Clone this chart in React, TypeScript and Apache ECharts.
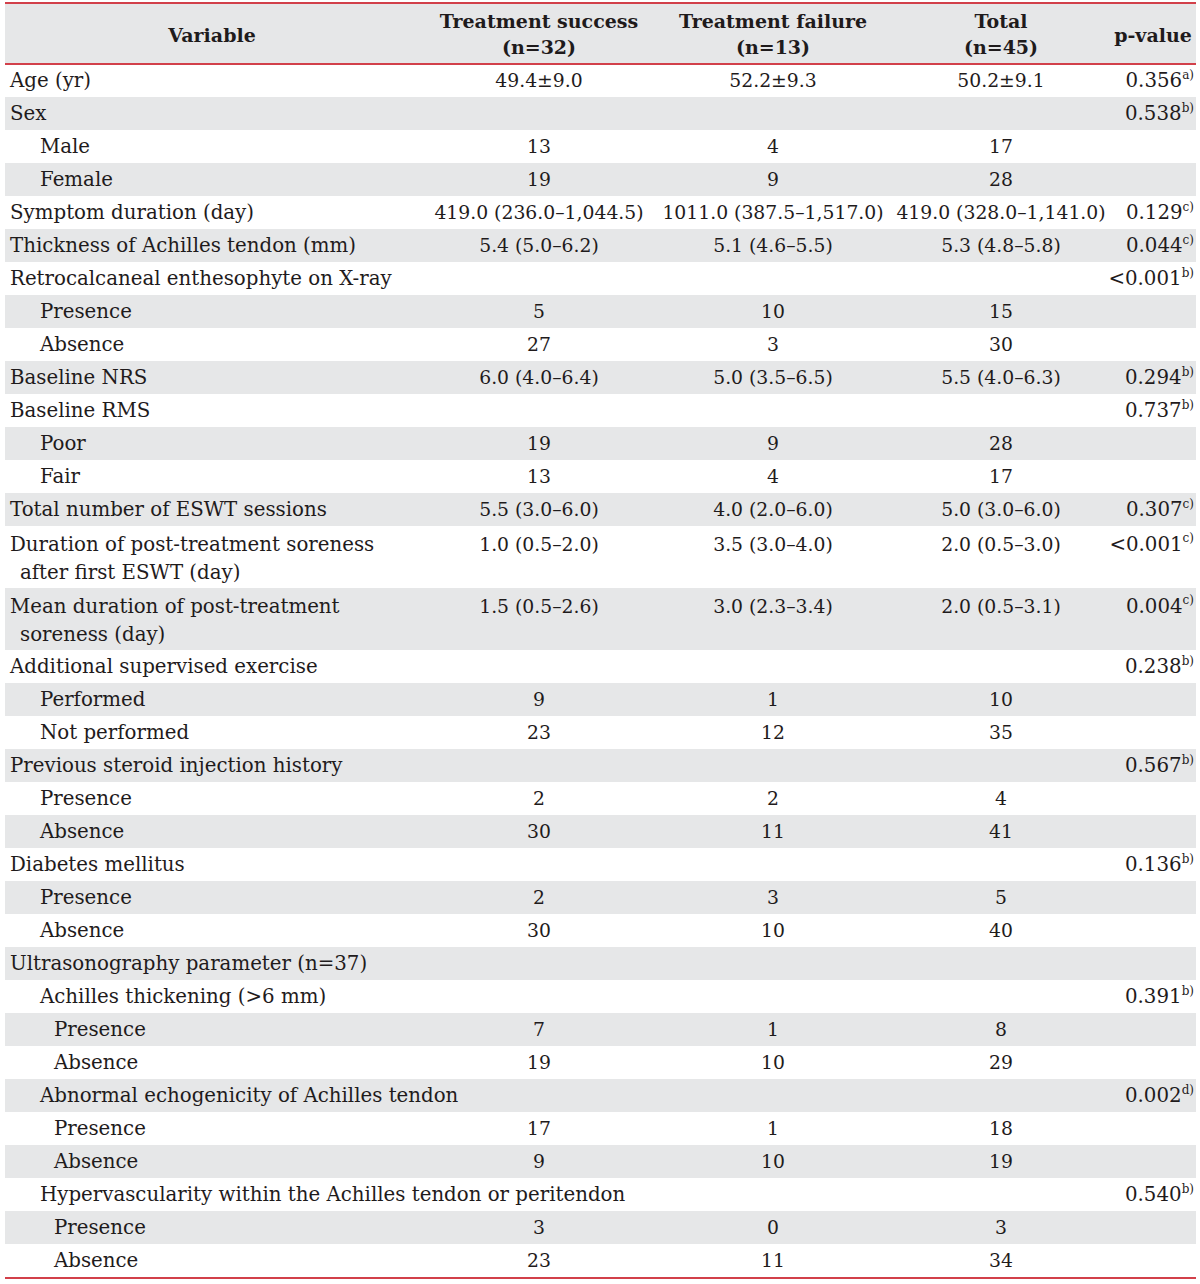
import React, { useEffect, useRef } from "react";
import * as echarts from "echarts";

const headerLabels = ["Variable", "Treatment success\n(n=32)", "Treatment failure\n(n=13)", "Total\n(n=45)", "p-value"];

const variables = [
  "Age (yr)", "Sex", "Male", "Female", "Symptom duration (day)", "Thickness of Achilles tendon (mm)",
  "Retrocalcaneal enthesophyte on X-ray", "Presence", "Absence", "Baseline NRS", "Baseline RMS", "Poor", "Fair",
  "Total number of ESWT sessions", "Duration of post-treatment soreness\nafter first ESWT (day)",
  "Mean duration of post-treatment\nsoreness (day)", "Additional supervised exercise", "Performed", "Not performed",
  "Previous steroid injection history", "Presence", "Absence", "Diabetes mellitus", "Presence", "Absence",
  "Ultrasonography parameter (n=37)", "Achilles thickening (>6 mm)", "Presence", "Absence",
  "Abnormal echogenicity of Achilles tendon", "Presence", "Absence",
  "Hypervascularity within the Achilles tendon or peritendon", "Presence", "Absence",
];

const indentLevels = [0, 0, 1, 1, 0, 0, 0, 1, 1, 0, 0, 1, 1, 0, 0, 0, 0, 1, 1, 0, 1, 1, 0, 1, 1, 0, 1, 2, 2, 1, 2, 2, 1, 2, 2];

const successValues = [
  "49.4±9.0", "", "13", "19", "419.0 (236.0–1,044.5)", "5.4 (5.0–6.2)", "", "5", "27", "6.0 (4.0–6.4)", "", "19", "13",
  "5.5 (3.0–6.0)", "1.0 (0.5–2.0)", "1.5 (0.5–2.6)", "", "9", "23", "", "2", "30", "", "2", "30", "", "", "7", "19",
  "", "17", "9", "", "3", "23",
];

const failureValues = [
  "52.2±9.3", "", "4", "9", "1011.0 (387.5–1,517.0)", "5.1 (4.6–5.5)", "", "10", "3", "5.0 (3.5–6.5)", "", "9", "4",
  "4.0 (2.0–6.0)", "3.5 (3.0–4.0)", "3.0 (2.3–3.4)", "", "1", "12", "", "2", "11", "", "3", "10", "", "", "1", "10",
  "", "1", "10", "", "0", "11",
];

const totalValues = [
  "50.2±9.1", "", "17", "28", "419.0 (328.0–1,141.0)", "5.3 (4.8–5.8)", "", "15", "30", "5.5 (4.0–6.3)", "", "28", "17",
  "5.0 (3.0–6.0)", "2.0 (0.5–3.0)", "2.0 (0.5–3.1)", "", "10", "35", "", "4", "41", "", "5", "40", "", "", "8", "29",
  "", "18", "19", "", "3", "34",
];

const pValues = [
  "0.356", "0.538", "", "", "0.129", "0.044", "<0.001", "", "", "0.294", "0.737", "", "", "0.307", "<0.001", "0.004",
  "0.238", "", "", "0.567", "", "", "0.136", "", "", "", "0.391", "", "", "0.002", "", "", "0.540", "", "",
];

const pNotes = [
  "a)", "b)", "", "", "c)", "c)", "b)", "", "", "b)", "b)", "", "", "c)", "c)", "c)",
  "b)", "", "", "b)", "", "", "b)", "", "", "", "b)", "", "", "d)", "", "", "b)", "", "",
];

const FONT = "'DejaVu Serif', serif";
const TEXT = "#1f1b1c";
const GREY = "#e6e7e8";
const RED = "#d2404a";

export default function App() {
  const ref = useRef<HTMLDivElement>(null);

  useEffect(() => {
    if (!ref.current) return;
    const chart = echarts.init(ref.current, null, { renderer: "svg" });

    const left = 5;
    const right = 1196;
    const headTop = 3;
    const headBottom = 64;
    const rowH = 33;
    const doubleH = 62;
    const colCenters = [212, 539, 773, 1001];
    const pRight = 1194;
    const indentX = [10, 40, 54];
    const labelFs = 19.8;
    const valueFs = 18.8;
    const pFs = 19.8;

    const elements: any[] = [];
    elements.push({ type: "rect", shape: { x: left, y: headTop, width: right - left, height: headBottom - headTop }, style: { fill: GREY } });

    let y = headBottom;
    variables.forEach((v, i) => {
      const lines = v.split("\n");
      const h = lines.length > 1 ? doubleH : rowH;
      if (i % 2 === 1) {
        elements.push({ type: "rect", shape: { x: left, y, width: right - left, height: h }, style: { fill: GREY } });
      }
      const firstY = lines.length > 1 ? y + 18 : y + 16.5;
      lines.forEach((ln, k) => {
        elements.push({
          type: "text", x: indentX[indentLevels[i]] + (k > 0 ? 10 : 0), y: firstY + k * 28,
          style: { text: ln, fill: TEXT, fontFamily: FONT, fontSize: labelFs, align: "left", verticalAlign: "middle" },
        });
      });
      [successValues[i], failureValues[i], totalValues[i]].forEach((val, c) => {
        if (!val) return;
        elements.push({
          type: "text", x: colCenters[c + 1], y: firstY,
          style: { text: val, fill: TEXT, fontFamily: FONT, fontSize: valueFs, align: "center", verticalAlign: "middle" },
        });
      });
      if (pValues[i]) {
        elements.push({
          type: "text", x: pRight, y: firstY,
          style: {
            text: `{v|${pValues[i]}}{s|${pNotes[i]}}`,
            align: "right", verticalAlign: "middle",
            rich: {
              v: { fill: TEXT, fontFamily: FONT, fontSize: pFs, lineHeight: 24 },
              s: { fill: TEXT, fontFamily: FONT, fontSize: 12, lineHeight: 14, verticalAlign: "top" },
            },
          },
        });
      }
      y += h;
    });

    headerLabels.forEach((h, c) => {
      const lines = h.split("\n");
      const x = c < 4 ? colCenters[c] : 1153;
      lines.forEach((ln, k) => {
        const cy = lines.length > 1 ? 21 + k * 26 : 35;
        elements.push({
          type: "text", x, y: cy,
          style: { text: ln, fill: TEXT, fontFamily: FONT, fontSize: 19, fontWeight: "bold", align: "center", verticalAlign: "middle" },
        });
      });
    });

    elements.push({ type: "rect", shape: { x: left, y: 2, width: right - left, height: 2 }, style: { fill: RED } });
    elements.push({ type: "rect", shape: { x: left, y: headBottom - 1, width: right - left, height: 2 }, style: { fill: RED } });
    elements.push({ type: "rect", shape: { x: left, y: y, width: right - left, height: 2 }, style: { fill: RED } });

    chart.setOption({ animation: false, backgroundColor: "#ffffff", graphic: { elements } });
    return () => chart.dispose();
  }, []);

  return <div ref={ref} style={{ position: "absolute", left: 0, top: 0, width: 1200, height: 1284 }} />;
}
